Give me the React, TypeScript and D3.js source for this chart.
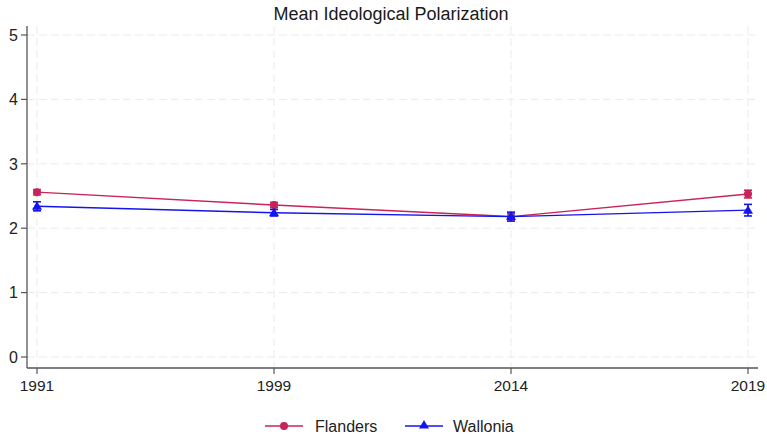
import React from "react";
import * as d3 from "d3";

const years = ["1991", "1999", "2014", "2019"];
const flanders = [2.56, 2.36, 2.18, 2.53];
const flandersErr = [0.04, 0.04, 0.05, 0.06];
const wallonia = [2.34, 2.24, 2.18, 2.28];
const walloniaErr = [0.07, 0.05, 0.07, 0.09];
const yTicks = [0, 1, 2, 3, 4, 5];

const W = 767;
const H = 438;
const FL = "#c8235a";
const WA = "#1414f0";
const font = "Liberation Sans, Arial, sans-serif";

export default function App() {
  const x = d3.scalePoint<string>().domain(years).range([37, 748]);
  const y = d3.scaleLinear().domain([0, 5]).range([357, 35]);
  const line = d3
    .line<number>()
    .x((_, i) => x(years[i]) as number);
  line.y((d) => y(d));
  const axisX = 27;
  const axisY = 368;

  const series = [
    { name: "Flanders", vals: flanders, err: flandersErr, color: FL, marker: "circle" },
    { name: "Wallonia", vals: wallonia, err: walloniaErr, color: WA, marker: "triangle" },
  ];

  const marker = (m: string, cx: number, cy: number, color: string, key: string) =>
    m === "circle" ? (
      <circle key={key} cx={cx} cy={cy} r={4} fill={color} />
    ) : (
      <path
        key={key}
        d={`M${cx},${cy - 5} L${cx + 5},${cy + 3.5} L${cx - 5},${cy + 3.5} Z`}
        fill={color}
      />
    );

  return (
    <svg
      width={W}
      height={H}
      style={{ position: "absolute", left: 0, top: 0, background: "#fff" }}
      fontFamily={font}
    >
      <rect width={W} height={H} fill="#fff" />
      <text x={391} y={20} textAnchor="middle" fontSize={18} fill="#1a1a1a">
        Mean Ideological Polarization
      </text>
      {/* grid */}
      {yTicks.map((t) => (
        <line
          key={"gy" + t}
          x1={axisX}
          x2={758}
          y1={y(t)}
          y2={y(t)}
          stroke="#ebebeb"
          strokeWidth={1}
          strokeDasharray="8,4"
        />
      ))}
      {years.map((yr) => (
        <line
          key={"gx" + yr}
          x1={x(yr)}
          x2={x(yr)}
          y1={26}
          y2={axisY}
          stroke="#ebebeb"
          strokeWidth={1}
          strokeDasharray="8,4"
        />
      ))}
      {/* axes */}
      <line x1={axisX} x2={axisX} y1={26} y2={axisY} stroke="#555" strokeWidth={1.3} />
      <line x1={axisX} x2={758} y1={axisY} y2={axisY} stroke="#555" strokeWidth={1.3} />
      {yTicks.map((t) => (
        <g key={"ty" + t}>
          <line x1={axisX - 6} x2={axisX} y1={y(t)} y2={y(t)} stroke="#555" strokeWidth={1.2} />
          <text
            x={axisX - 9}
            y={y(t)}
            dy="0.36em"
            textAnchor="end"
            fontSize={16}
            fill="#222"
          >
            {t}
          </text>
        </g>
      ))}
      {years.map((yr) => (
        <g key={"tx" + yr}>
          <line x1={x(yr)} x2={x(yr)} y1={axisY} y2={axisY + 6} stroke="#555" strokeWidth={1.2} />
          <text x={x(yr)} y={axisY + 23} textAnchor="middle" fontSize={15.5} fill="#222">
            {yr}
          </text>
        </g>
      ))}
      {/* series */}
      {series.map((s) => (
        <g key={s.name}>
          <path d={line(s.vals) || ""} fill="none" stroke={s.color} strokeWidth={1.4} />
          {s.vals.map((v, i) => {
            const cx = x(years[i]) as number;
            const lo = y(v - s.err[i]);
            const hi = y(v + s.err[i]);
            return (
              <g key={i}>
                <line x1={cx} x2={cx} y1={lo} y2={hi} stroke={s.color} strokeWidth={1.6} />
                <line x1={cx - 4} x2={cx + 4} y1={lo} y2={lo} stroke={s.color} strokeWidth={1.6} />
                <line x1={cx - 4} x2={cx + 4} y1={hi} y2={hi} stroke={s.color} strokeWidth={1.6} />
                {marker(s.marker, cx, y(v), s.color, "m" + i)}
              </g>
            );
          })}
        </g>
      ))}
      {/* legend */}
      <g>
        <line x1={265} x2={303} y1={426} y2={426} stroke={FL} strokeWidth={1.4} />
        {marker("circle", 284, 426, FL, "lf")}
        <text x={315} y={426} dy="0.36em" fontSize={16} fill="#222">
          Flanders
        </text>
        <line x1={405} x2={443} y1={426} y2={426} stroke={WA} strokeWidth={1.4} />
        {marker("triangle", 424, 425, WA, "lw")}
        <text x={453} y={426} dy="0.36em" fontSize={16} fill="#222">
          Wallonia
        </text>
      </g>
    </svg>
  );
}
